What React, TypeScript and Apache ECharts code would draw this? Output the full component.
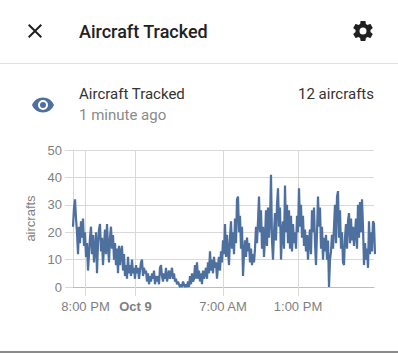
import React, { useEffect, useRef } from "react";
import * as echarts from "echarts";

const eveningValues = [22,29,32,25,20,12,22,16,24,18,25,15,20,11,16,6,12,18,22,12,19,9,14,20,5,16,21,23,13,18,8,15,21,12,23,15,9,18,22,14,19,10,16,8,14,5,15,8,13,15,6,12,4,8,3,11,5];
const nightValues = [8,4,10,5,7,3,8,5,7,3,6,9,10,4,7,5,6,2,5,1,4,2,5,3,6,1,4,2,4,1,7,8,4,2,5,3,7,2,4,6,3,5,7,3,5,2,3,1,2,1,0,1,0,2,1,0,1,0,2,0,4,1,5,2,3,8];
const sunriseValues = [3,9,3,6,2,5,1,6,3,5,7,3,9,5,13,6,10,5,11,7,9,3,8,11,6,13,9,17,12,23,11,19,13,8,18,24,14,20,12,25,16,32,33,20,26,14,22,4,12,17,11,18,13,16,9,14,8,12,9];
const middayValues = [14,22,16,24,33,20,28,14,22,11,18,28,15,29,18,24,41,17,10,20,27,17,30,36,22,29,10,20,24,14,37,20,30,16,28,14,26,13,23,16,20,14,26,20,36,22,30,18,26,15,21,13,19,10,17,21,12,28,20,29,16,8,20];
const afternoonValues = [33,22,29,14,22,10,18,13,19,10,17,0,10,13,19,14,22,30,16,33,35,18,28,14,20,9,8,18,23,14,24,27,16,25,17,22,15,20,25,14,30,18,31,20,32,22,8,16,10,14,7,24,12,20,13,24,23,12];
const aircraftValues = [...eveningValues, ...nightValues, ...sunriseValues, ...middayValues, ...afternoonValues];

const sampleHours = 0.08;
const hoursShown = 24.08;
const xTickHours = [1, 5, 12, 18];
const xTickLabels = ["8:00 PM", "{b|Oct 9}", "7:00 AM", "1:00 PM"];
const yTicks = [0, 10, 20, 30, 40, 50];

const closePath = "M19,6.41L17.59,5L12,10.59L6.41,5L5,6.41L10.59,12L5,17.59L6.41,19L12,13.41L17.59,19L19,17.59L13.41,12L19,6.41Z";
const eyePath = "M12,9A3,3 0 0,0 9,12A3,3 0 0,0 12,15A3,3 0 0,0 15,12A3,3 0 0,0 12,9M12,17A5,5 0 0,1 7,12A5,5 0 0,1 12,7A5,5 0 0,1 17,12A5,5 0 0,1 12,17M12,4.5C7,4.5 2.73,7.61 1,12C2.73,16.39 7,19.5 12,19.5C17,19.5 21.27,16.39 23,12C21.27,7.61 17,4.5 12,4.5Z";
const cogPath = "M12,15.5A3.5,3.5 0 0,1 8.5,12A3.5,3.5 0 0,1 12,8.5A3.5,3.5 0 0,1 15.5,12A3.5,3.5 0 0,1 12,15.5M19.43,12.97C19.47,12.65 19.5,12.33 19.5,12C19.5,11.67 19.47,11.34 19.43,11L21.54,9.37C21.73,9.22 21.78,8.95 21.66,8.73L19.66,5.27C19.54,5.05 19.27,4.96 19.05,5.05L16.56,6.05C16.04,5.66 15.5,5.32 14.87,5.07L14.5,2.42C14.46,2.18 14.25,2 14,2H10C9.75,2 9.54,2.18 9.5,2.42L9.13,5.07C8.5,5.32 7.96,5.66 7.44,6.05L4.95,5.05C4.73,4.96 4.46,5.05 4.34,5.27L2.34,8.73C2.21,8.95 2.27,9.22 2.46,9.37L4.57,11C4.53,11.34 4.5,11.67 4.5,12C4.5,12.33 4.53,12.65 4.57,12.97L2.46,14.63C2.27,14.78 2.21,15.05 2.34,15.27L4.34,18.73C4.46,18.95 4.73,19.03 4.95,18.95L7.44,17.94C7.96,18.34 8.5,18.68 9.13,18.93L9.5,21.58C9.54,21.82 9.75,22 10,22H14C14.25,22 14.46,21.82 14.5,21.58L14.87,18.93C15.5,18.67 16.04,18.34 16.56,17.94L19.05,18.95C19.27,19.03 19.54,18.95 19.66,18.73L21.66,15.27C21.78,15.05 21.73,14.78 21.54,14.63L19.43,12.97Z";

echarts.graphic.registerShape("closeIcon", echarts.graphic.extendPath(closePath, {}) as any);
echarts.graphic.registerShape("eyeIcon", echarts.graphic.extendPath(eyePath, {}) as any);
echarts.graphic.registerShape("cogIcon", echarts.graphic.extendPath(cogPath, {}) as any);

const uiFont = "Roboto";
const chartFont = "'Liberation Sans'";
const gridColor = "#d9d9d9";
const labelColor = "#7f7f7f";

export default function App() {
  const ref = useRef<HTMLDivElement>(null);
  useEffect(() => {
    const chart = echarts.init(ref.current!, undefined, { renderer: "svg" });
    chart.setOption({
      animation: false,
      backgroundColor: "#ffffff",
      grid: { left: 73, top: 150, width: 301, height: 137, containLabel: false },
      xAxis: {
        type: "value",
        min: 0,
        max: hoursShown,
        axisLine: { lineStyle: { color: "#bdbdbd", width: 1 } },
        axisTick: { length: 9, customValues: xTickHours, lineStyle: { color: gridColor } },
        axisLabel: {
          customValues: xTickHours,
          formatter: (v: number) => xTickLabels[xTickHours.indexOf(v)] ?? "",
          color: labelColor,
          fontFamily: chartFont,
          fontSize: 13,
          margin: 13,
          hideOverlap: false,
          rich: { b: { fontWeight: "bold", color: labelColor, fontFamily: chartFont, fontSize: 13 } },
        },
        splitLine: { show: true, lineStyle: { color: gridColor, width: 1 } },
      },
      yAxis: {
        type: "value",
        min: 0,
        max: 50,
        interval: 10,
        name: "aircrafts",
        nameLocation: "middle",
        nameGap: 29,
        nameTextStyle: { color: labelColor, fontFamily: chartFont, fontSize: 13 },
        axisLine: { show: true, lineStyle: { color: gridColor } },
        axisTick: { show: true, length: 8, lineStyle: { color: gridColor } },
        axisLabel: {
          color: labelColor,
          fontFamily: chartFont,
          fontSize: 13,
          margin: 11,
          formatter: (v: number) => (yTicks.includes(v) ? String(v) : ""),
        },
        splitLine: { show: true, lineStyle: { color: gridColor, width: 1 } },
      },
      series: [
        {
          type: "line",
          data: aircraftValues.map((v, i) => [i * sampleHours, v]),
          showSymbol: false,
          symbol: "none",
          clip: false,
          lineStyle: { color: "#4e709f", width: 2.2 },
        },
      ],
      graphic: [
        { type: "closeIcon", x: 23, y: 19, style: { fill: "#212121" } },
        { type: "cogIcon", x: 351, y: 19, style: { fill: "#212121" } },
        { type: "eyeIcon", x: 31, y: 93, style: { fill: "#4e709f" } },
        { type: "rect", shape: { x: 0, y: 63, width: 398, height: 1 }, style: { fill: "#e0e0e0" } },
        { type: "rect", shape: { x: 0, y: 351, width: 398, height: 2 }, style: { fill: "#8a8a8a" } },
        { type: "text", x: 79, y: 31, style: { text: "Aircraft Tracked", font: `500 18px ${uiFont}`, fill: "#212121", textVerticalAlign: "middle" } },
        { type: "text", x: 79, y: 94, style: { text: "Aircraft Tracked", font: `400 15px ${uiFont}`, fill: "#333333", textVerticalAlign: "middle" } },
        { type: "text", x: 374, y: 94, style: { text: "12 aircrafts", font: `400 15px ${uiFont}`, fill: "#333333", textAlign: "right", textVerticalAlign: "middle" } },
        { type: "text", x: 79, y: 115, style: { text: "1 minute ago", font: `400 15px ${uiFont}`, fill: "#8a8a8a", textVerticalAlign: "middle" } },
      ],
    });
    return () => chart.dispose();
  }, []);
  return <div ref={ref} style={{ position: "fixed", left: 0, top: 0, width: 398, height: 353 }} />;
}
